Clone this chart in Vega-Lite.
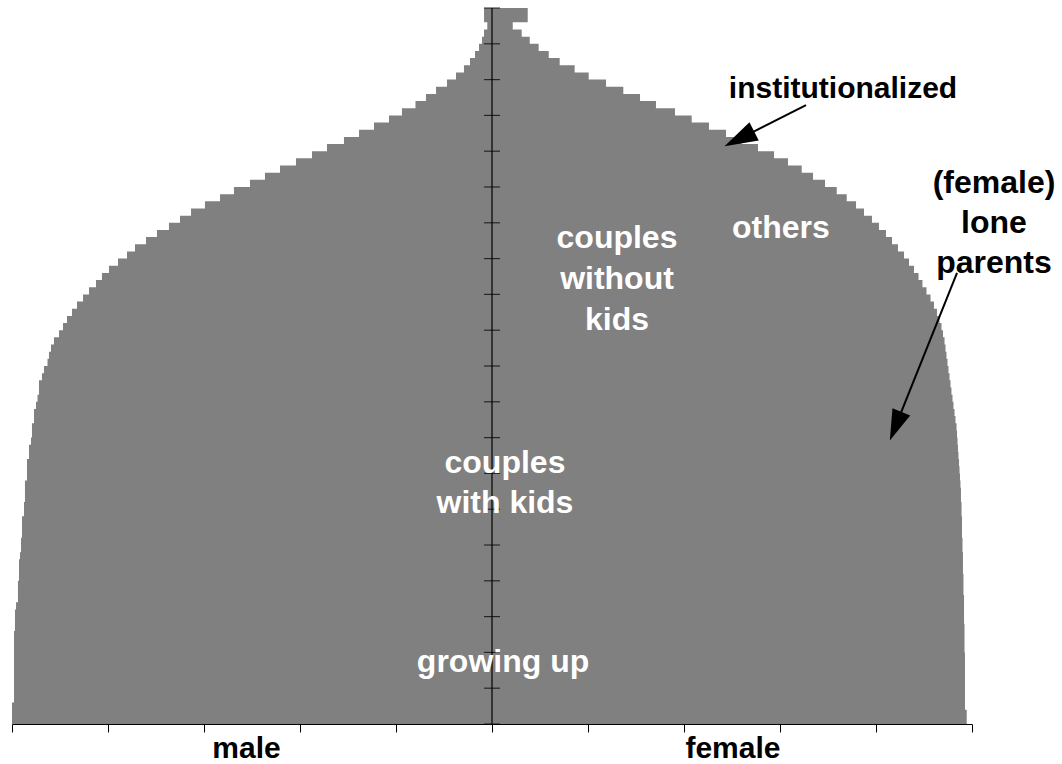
{
  "$schema": "https://vega.github.io/schema/vega-lite/v6.json",
  "width": 960,
  "height": 716,
  "autosize": {"type": "none"},
  "padding": {"left": 12, "top": 8, "right": 90, "bottom": 40},
  "background": "white",
  "config": {"view": {"stroke": null}, "text": {"font": "Liberation Sans", "fontWeight": "bold", "fontSize": 30}},
  "datasets": {
    "pop": [
      {"age":0,"sex":"male","pop":-502.1},{"age":1,"sex":"male","pop":-500},{"age":2,"sex":"male","pop":-500},{"age":3,"sex":"male","pop":-500},
      {"age":4,"sex":"male","pop":-497.9},{"age":5,"sex":"male","pop":-497.9},{"age":6,"sex":"male","pop":-497.9},{"age":7,"sex":"male","pop":-497.9},
      {"age":8,"sex":"male","pop":-497.9},{"age":9,"sex":"male","pop":-497.9},{"age":10,"sex":"male","pop":-497.9},{"age":11,"sex":"male","pop":-497.9},
      {"age":12,"sex":"male","pop":-497.9},{"age":13,"sex":"male","pop":-497.9},{"age":14,"sex":"male","pop":-496.9},{"age":15,"sex":"male","pop":-496.9},
      {"age":16,"sex":"male","pop":-496.9},{"age":17,"sex":"male","pop":-495.8},{"age":18,"sex":"male","pop":-493.8},{"age":19,"sex":"male","pop":-493.8},
      {"age":20,"sex":"male","pop":-493.8},{"age":21,"sex":"male","pop":-492.7},{"age":22,"sex":"male","pop":-492.7},{"age":23,"sex":"male","pop":-492.7},
      {"age":24,"sex":"male","pop":-491.7},{"age":25,"sex":"male","pop":-490.6},{"age":26,"sex":"male","pop":-490.6},{"age":27,"sex":"male","pop":-489.6},
      {"age":28,"sex":"male","pop":-489.6},{"age":29,"sex":"male","pop":-489.6},{"age":30,"sex":"male","pop":-487.5},{"age":31,"sex":"male","pop":-487.5},
      {"age":32,"sex":"male","pop":-486.5},{"age":33,"sex":"male","pop":-486.5},{"age":34,"sex":"male","pop":-486.5},{"age":35,"sex":"male","pop":-484.4},
      {"age":36,"sex":"male","pop":-484.4},{"age":37,"sex":"male","pop":-484.4},{"age":38,"sex":"male","pop":-482.3},{"age":39,"sex":"male","pop":-482.3},
      {"age":40,"sex":"male","pop":-480.2},{"age":41,"sex":"male","pop":-479.2},{"age":42,"sex":"male","pop":-479.2},{"age":43,"sex":"male","pop":-477.1},
      {"age":44,"sex":"male","pop":-477.1},{"age":45,"sex":"male","pop":-475},{"age":46,"sex":"male","pop":-473.4},{"age":47,"sex":"male","pop":-471.9},
      {"age":48,"sex":"male","pop":-471.9},{"age":49,"sex":"male","pop":-468.8},{"age":50,"sex":"male","pop":-466.7},{"age":51,"sex":"male","pop":-463},
      {"age":52,"sex":"male","pop":-461.5},{"age":53,"sex":"male","pop":-459.4},{"age":54,"sex":"male","pop":-456.3},{"age":55,"sex":"male","pop":-451},
      {"age":56,"sex":"male","pop":-446.9},{"age":57,"sex":"male","pop":-442.7},{"age":58,"sex":"male","pop":-437.5},{"age":59,"sex":"male","pop":-432.3},
      {"age":60,"sex":"male","pop":-426},{"age":61,"sex":"male","pop":-419.8},{"age":62,"sex":"male","pop":-412.5},{"age":63,"sex":"male","pop":-406.3},
      {"age":64,"sex":"male","pop":-399},{"age":65,"sex":"male","pop":-389.6},{"age":66,"sex":"male","pop":-380.2},{"age":67,"sex":"male","pop":-371.9},
      {"age":68,"sex":"male","pop":-360.4},{"age":69,"sex":"male","pop":-349},{"age":70,"sex":"male","pop":-336.5},{"age":71,"sex":"male","pop":-325},
      {"age":72,"sex":"male","pop":-313.5},{"age":73,"sex":"male","pop":-299},{"age":74,"sex":"male","pop":-283.3},{"age":75,"sex":"male","pop":-268.8},
      {"age":76,"sex":"male","pop":-252.1},{"age":77,"sex":"male","pop":-236.5},{"age":78,"sex":"male","pop":-220.8},{"age":79,"sex":"male","pop":-204.2},
      {"age":80,"sex":"male","pop":-187.5},{"age":81,"sex":"male","pop":-171.9},{"age":82,"sex":"male","pop":-154.2},{"age":83,"sex":"male","pop":-138.5},
      {"age":84,"sex":"male","pop":-122.9},{"age":85,"sex":"male","pop":-107.3},{"age":86,"sex":"male","pop":-93.8},{"age":87,"sex":"male","pop":-79.7},
      {"age":88,"sex":"male","pop":-68.8},{"age":89,"sex":"male","pop":-58.3},{"age":90,"sex":"male","pop":-46.9},{"age":91,"sex":"male","pop":-37.5},
      {"age":92,"sex":"male","pop":-29.2},{"age":93,"sex":"male","pop":-22.9},{"age":94,"sex":"male","pop":-17.7},{"age":95,"sex":"male","pop":-13.5},
      {"age":96,"sex":"male","pop":-10.4},{"age":97,"sex":"male","pop":-8.3},{"age":98,"sex":"male","pop":-4.9},{"age":99,"sex":"male","pop":-8.3},
      {"age":100,"sex":"male","pop":-8.3},
      {"age":0,"sex":"female","pop":496.9},{"age":1,"sex":"female","pop":494.5},{"age":2,"sex":"female","pop":494.5},{"age":3,"sex":"female","pop":492.7},
      {"age":4,"sex":"female","pop":492.7},{"age":5,"sex":"female","pop":492.7},{"age":6,"sex":"female","pop":492.7},{"age":7,"sex":"female","pop":492.7},
      {"age":8,"sex":"female","pop":492.7},{"age":9,"sex":"female","pop":492.7},{"age":10,"sex":"female","pop":492.7},{"age":11,"sex":"female","pop":492.2},
      {"age":12,"sex":"female","pop":492.2},{"age":13,"sex":"female","pop":492.2},{"age":14,"sex":"female","pop":492.2},{"age":15,"sex":"female","pop":491.7},
      {"age":16,"sex":"female","pop":491.7},{"age":17,"sex":"female","pop":491.7},{"age":18,"sex":"female","pop":491.7},{"age":19,"sex":"female","pop":491.1},
      {"age":20,"sex":"female","pop":491.1},{"age":21,"sex":"female","pop":491.1},{"age":22,"sex":"female","pop":490.6},{"age":23,"sex":"female","pop":490.6},
      {"age":24,"sex":"female","pop":490.6},{"age":25,"sex":"female","pop":490.1},{"age":26,"sex":"female","pop":490.1},{"age":27,"sex":"female","pop":489.6},
      {"age":28,"sex":"female","pop":489.6},{"age":29,"sex":"female","pop":489.6},{"age":30,"sex":"female","pop":489.1},{"age":31,"sex":"female","pop":489.1},
      {"age":32,"sex":"female","pop":488.5},{"age":33,"sex":"female","pop":488.5},{"age":34,"sex":"female","pop":488},{"age":35,"sex":"female","pop":487.5},
      {"age":36,"sex":"female","pop":487},{"age":37,"sex":"female","pop":486.5},{"age":38,"sex":"female","pop":485.9},{"age":39,"sex":"female","pop":485.4},
      {"age":40,"sex":"female","pop":484.9},{"age":41,"sex":"female","pop":484.4},{"age":42,"sex":"female","pop":483.9},{"age":43,"sex":"female","pop":482.8},
      {"age":44,"sex":"female","pop":481.8},{"age":45,"sex":"female","pop":480.7},{"age":46,"sex":"female","pop":479.7},{"age":47,"sex":"female","pop":478.6},
      {"age":48,"sex":"female","pop":477.6},{"age":49,"sex":"female","pop":476.6},{"age":50,"sex":"female","pop":475.5},{"age":51,"sex":"female","pop":474.5},
      {"age":52,"sex":"female","pop":473.4},{"age":53,"sex":"female","pop":472.4},{"age":54,"sex":"female","pop":471.4},{"age":55,"sex":"female","pop":469.8},
      {"age":56,"sex":"female","pop":468.2},{"age":57,"sex":"female","pop":466.1},{"age":58,"sex":"female","pop":463.5},{"age":59,"sex":"female","pop":460.4},
      {"age":60,"sex":"female","pop":456.8},{"age":61,"sex":"female","pop":452.6},{"age":62,"sex":"female","pop":448.4},{"age":63,"sex":"female","pop":444.3},
      {"age":64,"sex":"female","pop":439.6},{"age":65,"sex":"female","pop":434.4},{"age":66,"sex":"female","pop":429.2},{"age":67,"sex":"female","pop":422.9},
      {"age":68,"sex":"female","pop":416.7},{"age":69,"sex":"female","pop":410.4},{"age":70,"sex":"female","pop":403.1},{"age":71,"sex":"female","pop":395.8},
      {"age":72,"sex":"female","pop":387.5},{"age":73,"sex":"female","pop":379.2},{"age":74,"sex":"female","pop":369.5},{"age":75,"sex":"female","pop":359.1},
      {"age":76,"sex":"female","pop":346.9},{"age":77,"sex":"female","pop":334.4},{"age":78,"sex":"female","pop":322.6},{"age":79,"sex":"female","pop":308.3},
      {"age":80,"sex":"female","pop":293.8},{"age":81,"sex":"female","pop":277.1},{"age":82,"sex":"female","pop":260.1},{"age":83,"sex":"female","pop":243.8},
      {"age":84,"sex":"female","pop":226},{"age":85,"sex":"female","pop":208},{"age":86,"sex":"female","pop":190.6},{"age":87,"sex":"female","pop":170.8},
      {"age":88,"sex":"female","pop":154.2},{"age":89,"sex":"female","pop":136.8},{"age":90,"sex":"female","pop":118.8},{"age":91,"sex":"female","pop":100.7},
      {"age":92,"sex":"female","pop":86.1},{"age":93,"sex":"female","pop":70.5},{"age":94,"sex":"female","pop":59.1},{"age":95,"sex":"female","pop":48.6},
      {"age":96,"sex":"female","pop":39.3},{"age":97,"sex":"female","pop":30.9},{"age":98,"sex":"female","pop":21.6},{"age":99,"sex":"female","pop":37.2},
      {"age":100,"sex":"female","pop":37.2}
    ],
    "ageTicks": [
      {"age":0},{"age":5},{"age":10},{"age":15},{"age":20},{"age":25},{"age":30},{"age":35},{"age":40},{"age":45},{"age":50},
      {"age":55},{"age":60},{"age":65},{"age":70},{"age":75},{"age":80},{"age":85},{"age":90},{"age":95},{"age":100}
    ],
    "whiteNotes": [
      {"label":"couples","x":130.2,"y":66.5},
      {"label":"without","x":130.2,"y":60.8},
      {"label":"kids","x":130.2,"y":55.0},
      {"label":"others","x":301,"y":67.9},
      {"label":"couples","x":13.5,"y":35.0},
      {"label":"with kids","x":13.5,"y":29.4},
      {"label":"growing up","x":11.5,"y":7.26}
    ],
    "blackNotes": [
      {"label":"institutionalized","x":365.6,"y":87.5},
      {"label":"male","x":-255.7,"y":-4.75},
      {"label":"female","x":251,"y":-4.75}
    ],
    "sideNote": [
      {"label":"(female)","x":522.9,"y":74.2},
      {"label":"lone","x":522.9,"y":68.6},
      {"label":"parents","x":522.9,"y":63.0}
    ],
    "arrows": [
      {"x":327.1,"y":86.45,"x2":257.6,"y2":81.73},
      {"x":484.4,"y":62.99,"x2":420.4,"y2":41.6}
    ]
  },
  "layer": [
    {
      "data": {"name": "pop"},
      "mark": {"type": "area", "orient": "horizontal", "interpolate": "step-before", "color": "#808080", "opacity": 1},
      "encoding": {
        "x": {"field": "pop", "type": "quantitative", "stack": null,
              "scale": {"domain": [-500, 500], "nice": false, "zero": false},
              "axis": {"values": [-500,-400,-300,-200,-100,0,100,200,300,400,500], "labels": false, "title": null, "grid": false,
                       "tickSize": 8, "tickColor": "black", "domainColor": "black", "tickWidth": 1, "domainWidth": 1}},
        "x2": {"datum": 0},
        "y": {"field": "age", "type": "quantitative", "scale": {"domain": [0, 100], "nice": false}, "axis": null},
        "detail": {"field": "sex", "type": "nominal"}
      }
    },
    {
      "data": {"values": [{}]},
      "mark": {"type": "rule", "color": "black", "strokeWidth": 1.2},
      "encoding": {"x": {"datum": 0}, "y": {"datum": 0}, "y2": {"datum": 100}}
    },
    {
      "data": {"name": "ageTicks"},
      "mark": {"type": "tick", "orient": "horizontal", "color": "black", "size": 16, "thickness": 1.2},
      "encoding": {"x": {"datum": 0}, "y": {"field": "age", "type": "quantitative"}}
    },
    {
      "data": {"name": "arrows"},
      "mark": {"type": "rule", "color": "black", "strokeWidth": 2},
      "encoding": {
        "x": {"field": "x", "type": "quantitative"}, "y": {"field": "y", "type": "quantitative"},
        "x2": {"field": "x2"}, "y2": {"field": "y2"}
      }
    },
    {
      "data": {"values": [{}]},
      "mark": {"type": "point", "shape": "M0,-1L0.62,1L-0.62,1Z", "filled": true, "color": "black", "opacity": 1, "size": 1100, "angle": 243.2},
      "encoding": {"x": {"datum": 257.6}, "y": {"datum": 81.73}}
    },
    {
      "data": {"values": [{}]},
      "mark": {"type": "point", "shape": "M0,-1L0.62,1L-0.62,1Z", "filled": true, "color": "black", "opacity": 1, "size": 950, "angle": 201.9},
      "encoding": {"x": {"datum": 420.4}, "y": {"datum": 41.6}}
    },
    {
      "data": {"name": "whiteNotes"},
      "mark": {"type": "text", "color": "white", "align": "center", "baseline": "alphabetic", "fontSize": 32},
      "encoding": {"x": {"field": "x", "type": "quantitative"}, "y": {"field": "y", "type": "quantitative"}, "text": {"field": "label"}}
    },
    {
      "data": {"name": "blackNotes"},
      "mark": {"type": "text", "color": "black", "align": "center", "baseline": "alphabetic", "fontSize": 30},
      "encoding": {"x": {"field": "x", "type": "quantitative"}, "y": {"field": "y", "type": "quantitative"}, "text": {"field": "label"}}
    },
    {
      "data": {"name": "sideNote"},
      "mark": {"type": "text", "color": "black", "align": "center", "baseline": "alphabetic", "fontSize": 32},
      "encoding": {"x": {"field": "x", "type": "quantitative"}, "y": {"field": "y", "type": "quantitative"}, "text": {"field": "label"}}
    }
  ]
}
